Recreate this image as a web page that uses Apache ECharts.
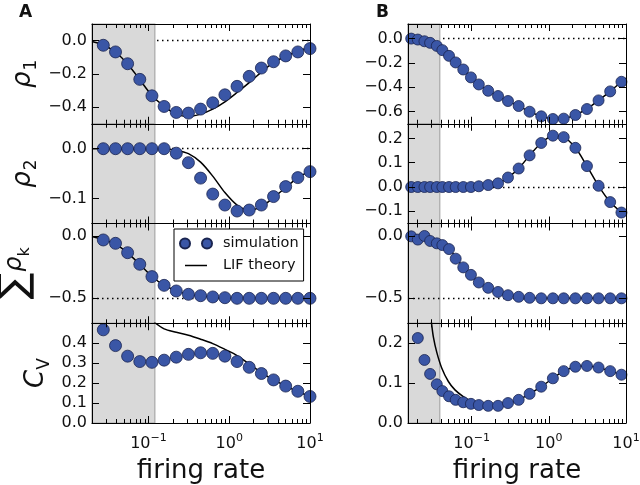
<!DOCTYPE html>
<html><head><meta charset="utf-8">
<script src="https://cdn.jsdelivr.net/npm/echarts@6/dist/echarts.min.js"></script>
<style>html,body{margin:0;padding:0;background:#fff}#c{width:640px;height:485px}</style>
</head><body><div id="c"></div>
<script>
// ---------------- data ----------------
const xA = [0.0276, 0.0391, 0.0552, 0.0781, 0.1105, 0.1563, 0.221, 0.3125, 0.442, 0.625, 0.884, 1.25, 1.768, 2.5, 3.536, 5.0, 7.071, 10.0];
const simA_rho1 = [-0.028, -0.068, -0.139, -0.233, -0.332, -0.396, -0.432, -0.436, -0.412, -0.374, -0.326, -0.275, -0.215, -0.165, -0.127, -0.092, -0.068, -0.048];
const simA_rho2 = [0, 0, 0, 0, 0, 0, -0.009, -0.028, -0.059, -0.091, -0.113, -0.125, -0.123, -0.113, -0.096, -0.076, -0.058, -0.046];
const simA_sum = [-0.032, -0.059, -0.134, -0.227, -0.326, -0.396, -0.441, -0.468, -0.479, -0.489, -0.495, -0.5, -0.5, -0.5, -0.5, -0.5, -0.5, -0.5];
const simA_cv = [0.467, 0.388, 0.335, 0.308, 0.304, 0.315, 0.330, 0.344, 0.352, 0.349, 0.335, 0.308, 0.279, 0.248, 0.216, 0.185, 0.159, 0.133];

const thA_x = [0.02, 0.0276, 0.0391, 0.0552, 0.0781, 0.1105, 0.1563, 0.221, 0.3125, 0.442, 0.625, 0.884, 1.25, 1.768, 2.5, 3.536, 5.0, 7.071, 10.0];
const thA_rho1 = [-0.005, -0.025, -0.07, -0.14, -0.235, -0.33, -0.395, -0.442, -0.456, -0.442, -0.412, -0.368, -0.312, -0.253, -0.189, -0.133, -0.094, -0.064, -0.040];
const thA_rho2 = [0, 0, 0, 0, 0, 0, 0, -0.003, -0.010, -0.027, -0.055, -0.088, -0.113, -0.123, -0.116, -0.098, -0.078, -0.058, -0.045];
const thA_sum = [-0.005, -0.03, -0.065, -0.135, -0.228, -0.325, -0.395, -0.44, -0.467, -0.482, -0.491, -0.496, -0.499, -0.5, -0.5, -0.5, -0.5, -0.5, -0.5];
const thA_cv_x = [0.118, 0.1563, 0.221, 0.3125, 0.442, 0.625, 0.884, 1.25, 1.768, 2.5, 3.536, 5.0, 7.071, 10.0];
const thA_cv = [0.505, 0.472, 0.455, 0.44, 0.42, 0.398, 0.369, 0.338, 0.296, 0.253, 0.217, 0.185, 0.158, 0.133];

const xB = [0.0165, 0.0201, 0.0245, 0.029, 0.0354, 0.0418, 0.051, 0.0622, 0.078, 0.098, 0.124, 0.164, 0.220, 0.296, 0.407, 0.564, 0.798, 1.13, 1.56, 2.21, 3.12, 4.41, 6.24, 8.73];
const simB_rho1 = [0.0, -0.008, -0.022, -0.035, -0.060, -0.095, -0.142, -0.196, -0.254, -0.319, -0.377, -0.429, -0.472, -0.513, -0.554, -0.601, -0.639, -0.661, -0.658, -0.628, -0.579, -0.508, -0.434, -0.355];
const simB_rho2 = [0, 0, 0, 0, 0, 0, 0, 0, 0, 0, 0.003, 0.008, 0.015, 0.039, 0.076, 0.130, 0.181, 0.211, 0.205, 0.161, 0.086, 0.005, -0.062, -0.105];
const simB_sum = [-0.003, -0.029, 0.0, -0.040, -0.059, -0.073, -0.105, -0.182, -0.252, -0.312, -0.373, -0.416, -0.449, -0.475, -0.488, -0.496, -0.5, -0.5, -0.5, -0.5, -0.5, -0.5, -0.5, -0.5];
const simB_cv = [0.29, 0.213, 0.158, 0.123, 0.097, 0.080, 0.067, 0.058, 0.052, 0.048, 0.045, 0.043, 0.043, 0.050, 0.058, 0.073, 0.091, 0.112, 0.130, 0.141, 0.143, 0.139, 0.130, 0.121];

const thB_x = [0.015, 0.0165, 0.0201, 0.0245, 0.029, 0.0354, 0.0418, 0.051, 0.0622, 0.078, 0.098, 0.124, 0.164, 0.220, 0.296, 0.407, 0.564, 0.798, 1.13, 1.56, 2.21, 3.12, 4.41, 6.24, 8.73, 10];
const thB_rho1 = [0.002, 0.0, -0.008, -0.021, -0.036, -0.060, -0.094, -0.142, -0.196, -0.254, -0.318, -0.377, -0.429, -0.472, -0.513, -0.554, -0.600, -0.638, -0.660, -0.657, -0.627, -0.578, -0.508, -0.434, -0.355, -0.325];
const thB_rho2 = [0, 0, 0, 0, 0, 0, 0, 0, 0, 0, 0, 0.002, 0.008, 0.015, 0.039, 0.076, 0.130, 0.181, 0.210, 0.205, 0.161, 0.086, 0.005, -0.062, -0.105, -0.118];
const thB_sum = [0.0, -0.003, -0.008, -0.015, -0.025, -0.040, -0.060, -0.098, -0.170, -0.250, -0.313, -0.373, -0.416, -0.449, -0.475, -0.489, -0.496, -0.499, -0.5, -0.5, -0.5, -0.5, -0.5, -0.5, -0.5, -0.5];
const thB_cv_x = [0.028, 0.0299, 0.032, 0.0354, 0.041, 0.050, 0.0609, 0.078, 0.1, 0.134, 0.181, 0.220, 0.296, 0.407, 0.564, 0.798, 1.13, 1.56, 2.21, 3.12, 4.41, 6.24, 8.73, 10];
const thB_cv = [0.30, 0.258, 0.215, 0.177, 0.138, 0.104, 0.083, 0.066, 0.054, 0.047, 0.044, 0.044, 0.049, 0.058, 0.073, 0.091, 0.112, 0.130, 0.141, 0.143, 0.139, 0.130, 0.121, 0.117];

const xMin = [0.02, 0.015];
const xMax = 10;
const shadeEnd = [0.12, 0.0387];
const ticksA = [[0, -0.2, -0.4], [0, -0.1], [0, -0.5], [0, 0.1, 0.2, 0.3, 0.4]];
const ticksB = [[0, -0.2, -0.4, -0.6], [-0.1, 0, 0.1, 0.2], [0, -0.5], [0, 0.1, 0.2]];
const yRangeA = [[-0.5, 0.1], [-0.15, 0.05], [-0.7, 0.1], [0, 0.5]];
const yRangeB = [[-0.7, 0.12], [-0.15, 0.26], [-0.7, 0.1], [0, 0.25]];
const refLines = [0, 0, -0.5, null];
const yNames = ['{i|ρ}{s|1}', '{i|ρ}{s|2}', '{sum|∑}{i2|ρ}{s2|k}', '{c|C}{v|V}'];
const panelLetters = ['A', 'B'];
const xLabelText = 'firing rate';
const legendNames = ['simulation', 'LIF theory'];

// ---------------- layout / style ----------------
const FONT = 'DejaVu Sans';
const TXT = '#111';
const DOT = '#3a56a6';
const gridLeft = [92, 408];
const gridW = 218;
const gridTops = [24, 123.75, 223.5, 323.25];
const gridH = 99.75;
const nameGaps = [52, 52, 54, 39];

const sims = [[simA_rho1, simA_rho2, simA_sum, simA_cv], [simB_rho1, simB_rho2, simB_sum, simB_cv]];
const simX = [xA, xB];
const ths = [
  [[thA_x, thA_rho1], [thA_x, thA_rho2], [thA_x, thA_sum], [thA_cv_x, thA_cv]],
  [[thB_x, thB_rho1], [thB_x, thB_rho2], [thB_x, thB_sum], [thB_cv_x, thB_cv]]
];

function yFmt(v) {
  const a = Math.abs(v).toFixed(1);
  return (v < -1e-9 ? '\u2212' : '') + a;
}
function xFmt(v) {
  const e = Math.round(Math.log10(v));
  return '{b|10}{s|' + (e < 0 ? '\u2212' + (-e) : String(e)) + '}';
}

const option = {
  animation: false,
  backgroundColor: '#fff',
  title: panelLetters.map((t, c) => ({
    text: t, left: c === 0 ? 19 : 376, top: 4, padding: 0,
    textStyle: { fontFamily: FONT, fontWeight: 'bold', fontSize: 17, color: TXT }
  })),
  legend: {
    left: 174, top: 229, orient: 'vertical',
    padding: [7, 5, 8, 4],
    itemWidth: 39, itemHeight: 12, itemGap: 7,
    backgroundColor: '#fff', borderColor: '#000', borderWidth: 1, borderRadius: 0,
    textStyle: { fontFamily: FONT, fontSize: 14.5, color: TXT, lineHeight: 14 },
    selectedMode: false,
    z: 20,
    data: [
      { name: legendNames[0], icon: 'path://M0,0M39,12M1,6A5,5,0,1,0,11,6A5,5,0,1,0,1,6ZM23,6A5,5,0,1,0,33,6A5,5,0,1,0,23,6Z' },
      { name: legendNames[1], icon: 'path://M0,0M39,12M6,5.25L28,5.25L28,6.75L6,6.75Z' }
    ]
  },
  grid: [], xAxis: [], yAxis: [], series: []
};

const axisLineStyle = { color: '#000', width: 1 };
let idx = 0;
for (let c = 0; c < 2; c++) {
  for (let r = 0; r < 4; r++) {
    const i = idx++;
    option.grid.push({ left: gridLeft[c], top: gridTops[r], width: gridW, height: gridH, containLabel: false, outerBoundsMode: 'none' });
    const isBottom = r === 3;
    const xCommon = {
      type: 'log', logBase: 10, gridIndex: i, min: xMin[c], max: xMax, z: 10,
      splitLine: { show: false }, minorSplitLine: { show: false },
      axisLine: { show: true, onZero: false, lineStyle: axisLineStyle },
      axisTick: { show: true, inside: true, length: 7, lineStyle: axisLineStyle },
      minorTick: { show: true, splitNumber: 9, length: 4, lineStyle: axisLineStyle }
    };
    option.xAxis.push(Object.assign({}, xCommon, {
      position: 'bottom',
      axisLabel: {
        show: isBottom, showMinLabel: false, margin: 10, formatter: xFmt,
        rich: {
          b: { fontFamily: FONT, fontSize: 16, lineHeight: 22, color: TXT, verticalAlign: 'middle' },
          s: { fontFamily: FONT, fontSize: 11, lineHeight: 11, color: TXT, verticalAlign: 'top' }
        }
      },
      name: isBottom ? xLabelText : '', nameLocation: 'middle', nameGap: 35,
      nameTextStyle: { fontFamily: FONT, fontSize: 26, color: TXT }
    }));
    option.xAxis.push(Object.assign({}, xCommon, { position: 'top', axisLabel: { show: false } }));

    const rng = c === 0 ? yRangeA[r] : yRangeB[r];
    const tks = c === 0 ? ticksA[r] : ticksB[r];
    option.yAxis.push({
      type: 'value', gridIndex: i, min: rng[0], max: rng[1], position: 'left', z: 10,
      splitLine: { show: false },
      axisLine: { show: true, onZero: false, lineStyle: axisLineStyle },
      axisTick: { show: true, inside: true, length: 7, customValues: tks, lineStyle: axisLineStyle },
      axisLabel: { show: true, customValues: tks, margin: 5, formatter: yFmt, fontFamily: FONT, fontSize: 16, color: TXT },
      name: c === 0 ? yNames[r] : '', nameLocation: 'middle', nameRotate: 90, nameGap: nameGaps[r],
      nameTextStyle: {
        color: TXT,
        rich: {
          i: { fontFamily: FONT, fontStyle: 'italic', fontSize: 26, lineHeight: 30, verticalAlign: 'top', color: TXT },
          s: { fontFamily: FONT, fontSize: 17, lineHeight: 18, padding: [13, 0, 0, 1], verticalAlign: 'top', color: TXT },
          c: { fontFamily: FONT, fontStyle: 'italic', fontSize: 26, lineHeight: 30, verticalAlign: 'top', color: TXT },
          v: { fontFamily: FONT, fontSize: 17, lineHeight: 18, padding: [13, 0, 0, 0], verticalAlign: 'top', color: TXT },
          sum: { fontFamily: FONT, fontSize: 40, lineHeight: 42, verticalAlign: 'top', color: TXT },
          i2: { fontFamily: FONT, fontStyle: 'italic', fontSize: 24, lineHeight: 28, padding: [7, 0, 0, 1], verticalAlign: 'top', color: TXT },
          s2: { fontFamily: FONT, fontSize: 16, lineHeight: 16, padding: [21, 0, 0, 0], verticalAlign: 'top', color: TXT }
        }
      }
    });
    option.yAxis.push({
      type: 'value', gridIndex: i, min: rng[0], max: rng[1], position: 'right', z: 10,
      splitLine: { show: false },
      axisLine: { show: true, onZero: false, lineStyle: axisLineStyle },
      axisTick: { show: true, inside: true, length: 7, customValues: tks, lineStyle: axisLineStyle },
      axisLabel: { show: false }
    });

    const xi = 2 * i, yi = 2 * i;
    const refOver = r === 2;
    const helper = {
      type: 'line', name: 'bg' + i, xAxisIndex: xi, yAxisIndex: yi, data: [], silent: true,
      markArea: {
        silent: true, z: refOver ? 1 : 2,
        itemStyle: { color: '#d9d9d9', borderColor: '#a8a8a8', borderWidth: 1.2 },
        label: { show: false },
        data: [[{ xAxis: xMin[c] }, { xAxis: shadeEnd[c] }]]
      }
    };
    if (refLines[r] !== null) {
      helper.markLine = {
        silent: true, z: refOver ? 2 : 1, symbol: ['none', 'none'],
        label: { show: false },
        lineStyle: { color: '#000', type: [1.5, 3.5], width: 1.3 },
        data: [{ yAxis: refLines[r] }]
      };
    }
    option.series.push(helper);

    const th = ths[c][r];
    option.series.push({
      type: 'line', name: legendNames[1], xAxisIndex: xi, yAxisIndex: yi,
      data: th[0].map((x, k) => [x, th[1][k]]),
      showSymbol: false, symbol: 'none', smooth: 0.3, clip: true,
      lineStyle: { color: '#000', width: 1.5 }, itemStyle: { color: '#000' },
      emphasis: { disabled: true }, z: 3
    });
    const sx = simX[c], sy = sims[c][r];
    option.series.push({
      type: 'scatter', name: legendNames[0], xAxisIndex: xi, yAxisIndex: yi,
      data: sx.map((x, k) => [x, sy[k]]),
      symbol: 'circle', symbolSize: c === 0 ? 12 : 11, clip: true,
      itemStyle: { color: DOT, borderColor: '#1a2550', borderWidth: 0.8, opacity: 1 },
      emphasis: { disabled: true }, z: 4
    });
  }
}

const chart = echarts.init(document.getElementById('c'), null, { renderer: 'canvas' });
chart.setOption(option);
</script>
</body></html>
